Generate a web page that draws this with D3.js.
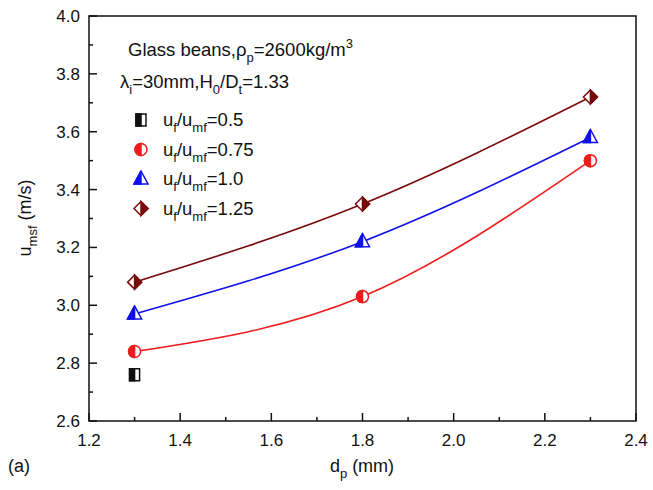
<!DOCTYPE html>
<html>
<head>
<meta charset="utf-8">
<script src="https://cdn.jsdelivr.net/npm/d3@7"></script>
<style>
  body { margin: 0; background: #fff; }
  svg text { font-family: "Liberation Sans", Arial, sans-serif; fill: #111; }
</style>
</head>
<body>
<svg width="653" height="490"></svg>
<script>
// data
var dp = [1.3, 1.8, 2.3];
var u05 = [2.76];
var u075 = [2.84, 3.03, 3.50];
var u10 = [2.97, 3.22, 3.58];
var u125 = [3.08, 3.35, 3.72];
var xTicks = [1.2, 1.4, 1.6, 1.8, 2.0, 2.2, 2.4];
var yTicks = [2.6, 2.8, 3.0, 3.2, 3.4, 3.6, 3.8, 4.0];

var svg = d3.select("svg"),
    pL = 89, pR = 636, pT = 16, pB = 421;

var x = d3.scaleLinear().domain([1.2, 2.4]).range([pL, pR]);
var y = d3.scaleLinear().domain([2.6, 4.0]).range([pB, pT]);

// frame
svg.append("rect")
    .attr("x", pL).attr("y", pT)
    .attr("width", pR - pL).attr("height", pB - pT)
    .attr("fill", "none").attr("stroke", "#111").attr("stroke-width", 1.5);

// ticks (inward, major + minor)
var xMinor = d3.range(1.3, 2.4, 0.2);
var yMinor = d3.range(2.7, 4.0, 0.2);
var g = svg.append("g").attr("stroke", "#111").attr("stroke-width", 1.5);
xTicks.forEach(function(t) { g.append("line").attr("x1", x(t)).attr("x2", x(t)).attr("y1", pB).attr("y2", pB - 8); });
xMinor.forEach(function(t) { g.append("line").attr("x1", x(t)).attr("x2", x(t)).attr("y1", pB).attr("y2", pB - 4); });
yTicks.forEach(function(t) { g.append("line").attr("y1", y(t)).attr("y2", y(t)).attr("x1", pL).attr("x2", pL + 8); });
yMinor.forEach(function(t) { g.append("line").attr("y1", y(t)).attr("y2", y(t)).attr("x1", pL).attr("x2", pL + 4); });

svg.selectAll(".xl").data(xTicks).enter().append("text")
    .attr("x", function(d) { return x(d); }).attr("y", 446)
    .attr("text-anchor", "middle").attr("font-size", 17)
    .text(function(d) { return d.toFixed(1); });
svg.selectAll(".yl").data(yTicks).enter().append("text")
    .attr("x", 80).attr("y", function(d) { return y(d) + 6; })
    .attr("text-anchor", "end").attr("font-size", 17)
    .text(function(d) { return d.toFixed(1); });

// axis titles
var xt = svg.append("text").attr("x", 362).attr("y", 472).attr("text-anchor", "middle").attr("font-size", 18);
xt.append("tspan").text("d");
xt.append("tspan").attr("font-size", 13).attr("dy", 6).text("p");
xt.append("tspan").attr("dy", -6).text(" (mm)");

var yt = svg.append("text").attr("transform", "translate(31,218) rotate(-90)").attr("text-anchor", "middle").attr("font-size", 18);
yt.append("tspan").text("u");
yt.append("tspan").attr("font-size", 13).attr("dy", 6).text("msf");
yt.append("tspan").attr("dy", -6).text(" (m/s)");

svg.append("text").attr("x", 8).attr("y", 472).attr("font-size", 18).text("(a)");

// curves
var series = [
  { vals: u075, color: "#ee1c1c", sym: "circle" },
  { vals: u10, color: "#1010ee", sym: "triangle" },
  { vals: u125, color: "#7a0a0a", sym: "diamond" }
];
var line = d3.line()
    .x(function(d, i) { return x(dp[i]); })
    .y(function(d) { return y(d); })
    .curve(d3.curveNatural);
series.forEach(function(s) {
  svg.append("path").attr("d", line(s.vals))
      .attr("fill", "none").attr("stroke", s.color).attr("stroke-width", 1.6);
});

// half filled markers
function marker(cx, cy, sym, color) {
  var m = svg.append("g").attr("transform", "translate(" + cx + "," + cy + ")");
  var shape, half;
  if (sym == "square") {
    shape = "M-5,-6H5V6H-5Z"; half = "M-5,-6H0V6H-5Z";
  } else if (sym == "circle") {
    shape = "M0,-6A6,6 0 1,1 0,6A6,6 0 1,1 0,-6Z"; half = "M0,-6A6,6 0 0,0 0,6Z";
  } else if (sym == "triangle") {
    shape = "M0,-8L7,5H-7Z"; half = "M0,-8L0,5H-7Z";
  } else {
    shape = "M0,-7L7,0L0,7L-7,0Z"; half = "M0,-7L7,0L0,7Z";
  }
  m.append("path").attr("d", shape).attr("fill", "#fff").attr("stroke", color).attr("stroke-width", 1.5);
  m.append("path").attr("d", half).attr("fill", color).attr("stroke", color).attr("stroke-width", 1.5);
}
u05.forEach(function(v, i) { marker(x(dp[i]), y(v), "square", "#111"); });
series.forEach(function(s) {
  s.vals.forEach(function(v, i) { marker(x(dp[i]), y(v), s.sym, s.color); });
});

// annotation
var t1 = svg.append("text").attr("x", 128).attr("y", 56).attr("font-size", 18.5);
t1.append("tspan").text("Glass beans,ρ");
t1.append("tspan").attr("font-size", 13).attr("dy", 6).text("p");
t1.append("tspan").attr("dy", -6).text("=2600kg/m");
t1.append("tspan").attr("font-size", 13).attr("dy", -8).text("3");

var t2 = svg.append("text").attr("x", 120).attr("y", 88).attr("font-size", 18.5);
t2.append("tspan").text("λ");
t2.append("tspan").attr("font-size", 13).attr("dy", 6).text("i");
t2.append("tspan").attr("dy", -6).text("=30mm,H");
t2.append("tspan").attr("font-size", 13).attr("dy", 6).text("0");
t2.append("tspan").attr("dy", -6).text("/D");
t2.append("tspan").attr("font-size", 13).attr("dy", 6).text("t");
t2.append("tspan").attr("dy", -6).text("=1.33");

// legend
var legend = [
  { label: "0.5", sym: "square", color: "#111" },
  { label: "0.75", sym: "circle", color: "#ee1c1c" },
  { label: "1.0", sym: "triangle", color: "#1010ee" },
  { label: "1.25", sym: "diamond", color: "#7a0a0a" }
];
legend.forEach(function(l, i) {
  var ly = 120 + i * 29.5;
  marker(141, ly, l.sym, l.color);
  var t = svg.append("text").attr("x", 163).attr("y", ly + 6).attr("font-size", 18.5);
  t.append("tspan").text("u");
  t.append("tspan").attr("font-size", 13).attr("dy", 6).text("f");
  t.append("tspan").attr("dy", -6).text("/u");
  t.append("tspan").attr("font-size", 13).attr("dy", 6).text("mf");
  t.append("tspan").attr("dy", -6).text("=" + l.label);
});
</script>
</body>
</html>
